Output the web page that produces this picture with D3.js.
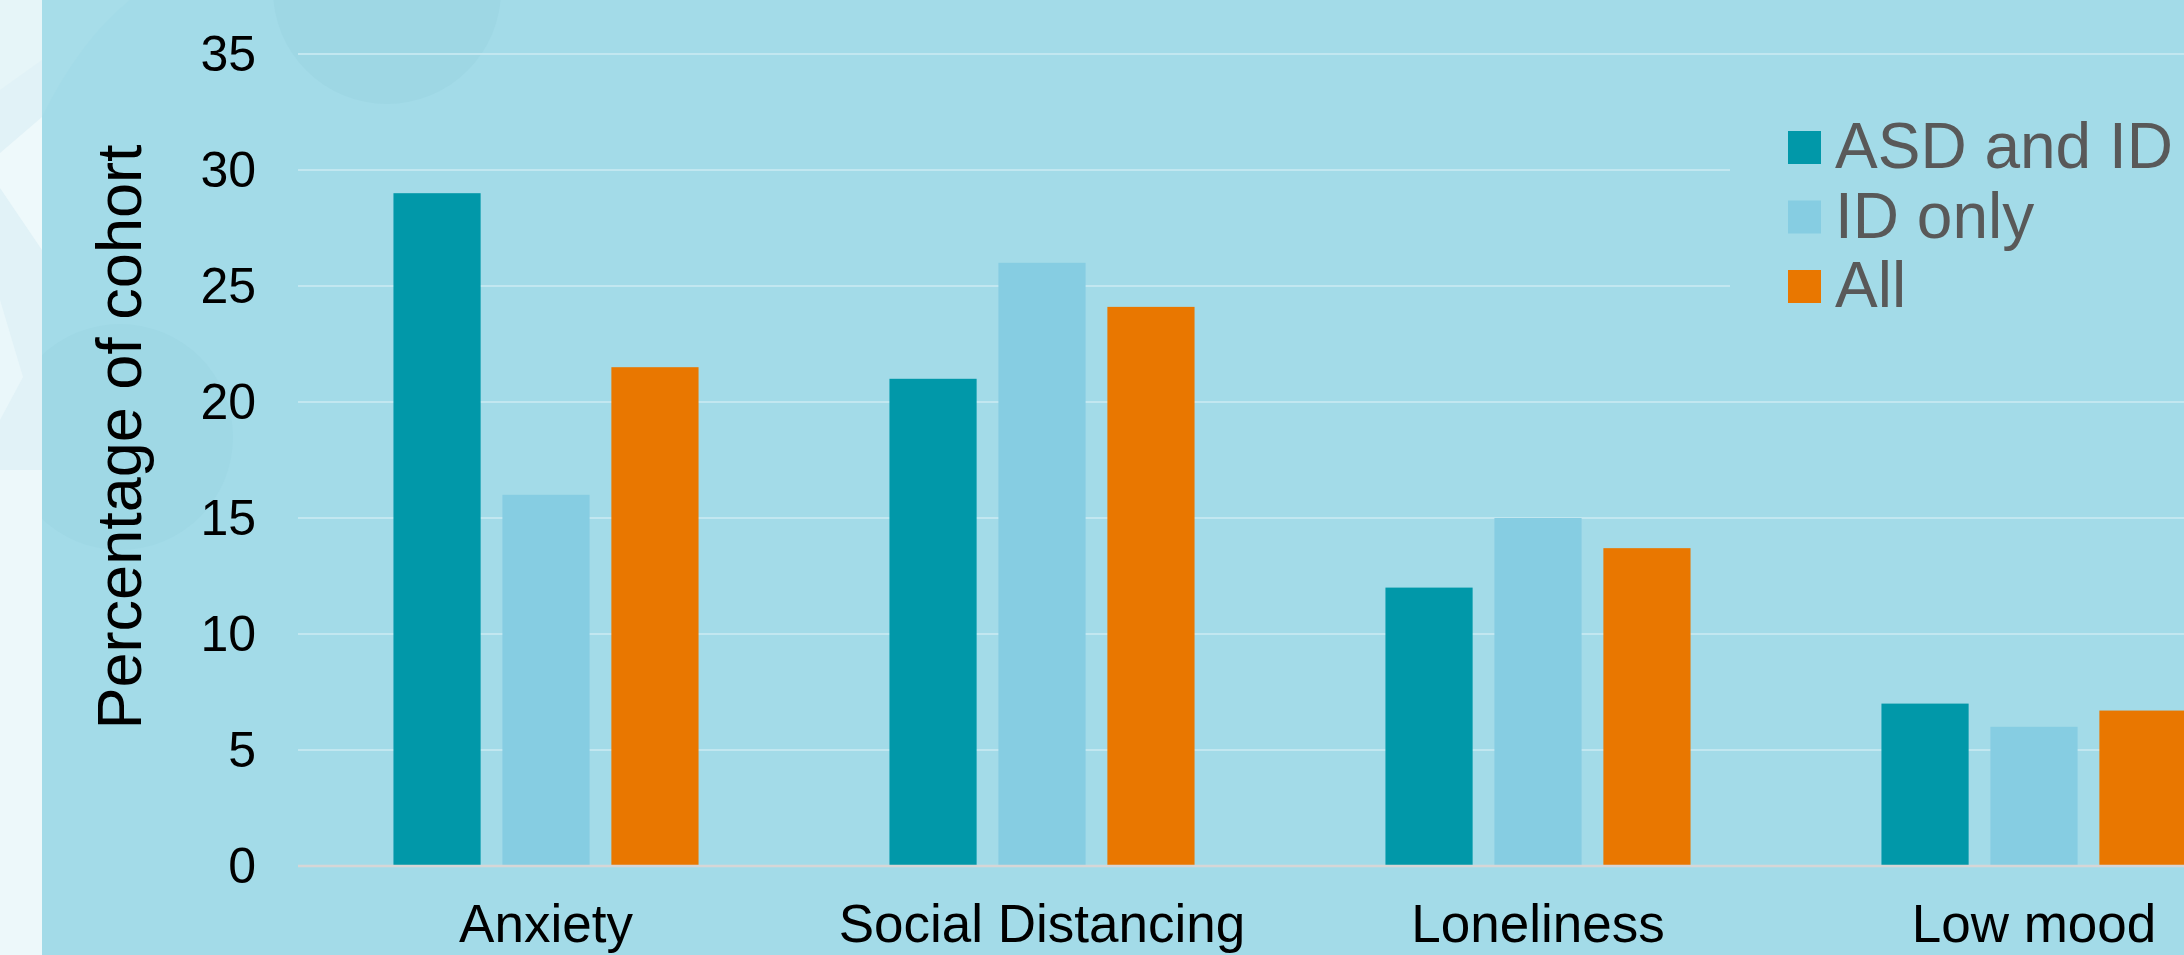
<!DOCTYPE html>
<html>
<head>
<meta charset="utf-8">
<script src="https://cdn.jsdelivr.net/npm/d3@7"></script>
<style>
  html, body { margin: 0; padding: 0; background: #a3dbe8; overflow: hidden; }
  svg { display: block; font-family: "Liberation Sans", Arial, sans-serif; }
</style>
</head>
<body>
<svg id="chart"></svg>
<script>
// data
let categories = ['Anxiety', 'Social Distancing', 'Loneliness', 'Low mood']
let seriesNames = ['ASD and ID', 'ID only', 'All']
let asdAndId = [29, 21, 12, 7]
let idOnly = [16, 26, 15, 6]
let allCohort = [21.5, 24.1, 13.7, 6.7]
let yTicks = [0, 5, 10, 15, 20, 25, 30, 35]

let colors = ['#0198a9', '#86cde2', '#e97700']

let width = 2184
let height = 955

let svg = d3.select('#chart')
  .attr('width', width)
  .attr('height', height)

// background
svg.append('rect')
  .attr('width', width).attr('height', height)
  .attr('fill', '#a3dbe8')

// faint decoration shapes
svg.append('path')
  .attr('d', 'M42,117 Q80,40 130,0 L0,0 L0,150 Z')
  .attr('fill', '#a7dde9')
svg.append('circle').attr('cx', 387).attr('cy', -10).attr('r', 114).attr('fill', '#9ed7e4')
svg.append('circle').attr('cx', 120).attr('cy', 437).attr('r', 113).attr('fill', '#9fd8e5')

// light strip on the left
let strip = svg.append('g')
strip.append('rect').attr('x', 0).attr('y', 0).attr('width', 42).attr('height', height).attr('fill', '#e1f2f7')
strip.append('path').attr('d', 'M0,153 L42,117 L42,250 L0,188 Z').attr('fill', '#eef9fb')
strip.append('path').attr('d', 'M0,300 L23,377 L0,420 Z').attr('fill', '#eaf7fa')
strip.append('path').attr('d', 'M0,470 L42,470 L42,955 L0,955 Z').attr('fill', '#edf8fa')
strip.append('path').attr('d', 'M0,0 L42,0 L42,60 L0,90 Z').attr('fill', '#e6f5f8')

let x0 = d3.scaleBand()
  .domain(categories)
  .range([298, 298 + 4 * 496])
  .padding(0)

let x1 = d3.scaleBand()
  .domain(seriesNames)
  .range([0, x0.bandwidth()])
  .paddingInner(0.2)
  .paddingOuter(0.876)

let y = d3.scaleLinear()
  .domain([0, 35])
  .range([866, 54])

// gridlines
svg.append('g')
  .selectAll('line')
  .data(yTicks.filter(d => d > 0))
  .enter()
  .append('line')
  .attr('x1', 298).attr('x2', width)
  .attr('y1', d => y(d)).attr('y2', d => y(d))
  .attr('stroke', '#c2e7f0')
  .attr('stroke-width', 2)

// y axis labels
let yAxis = svg.append('g')
  .attr('transform', 'translate(256,0)')
  .call(d3.axisLeft(y).tickValues(yTicks).tickSize(0).tickPadding(0))
yAxis.select('.domain').remove()
yAxis.selectAll('text')
  .attr('font-size', 50)
  .attr('fill', '#000')
  .attr('font-family', '"Liberation Sans", Arial, sans-serif')

// axis title
svg.append('text')
  .attr('transform', 'translate(141,437) rotate(-90)')
  .attr('text-anchor', 'middle')
  .attr('font-size', 63)
  .attr('fill', '#000')
  .text('Percentage of cohort')

// bars
let rows = categories.map((c, i) => ({
  category: c,
  values: [asdAndId[i], idOnly[i], allCohort[i]]
}))

let groups = svg.append('g')
  .selectAll('g')
  .data(rows)
  .enter()
  .append('g')
  .attr('transform', d => 'translate(' + x0(d.category) + ',0)')

groups.selectAll('rect')
  .data(d => d.values.map((v, j) => ({series: seriesNames[j], value: v, idx: j})))
  .enter()
  .append('rect')
  .attr('x', d => x1(d.series))
  .attr('y', d => y(d.value))
  .attr('width', x1.bandwidth())
  .attr('height', d => y(0) - y(d.value))
  .attr('fill', d => colors[d.idx])

// zero line
svg.append('line')
  .attr('x1', 298).attr('x2', width)
  .attr('y1', y(0)).attr('y2', y(0))
  .attr('stroke', '#d6d6d6')
  .attr('stroke-width', 2.5)

// category labels
let xAxis = svg.append('g')
  .attr('transform', 'translate(0,' + y(0) + ')')
  .call(d3.axisBottom(x0).tickSize(0).tickPadding(0))
xAxis.select('.domain').remove()
xAxis.selectAll('text')
  .attr('dy', null)
  .attr('y', 76)
  .attr('font-size', 53)
  .attr('fill', '#000')
  .attr('font-family', '"Liberation Sans", Arial, sans-serif')

// legend, box hides the gridlines behind it
let legend = svg.append('g')
legend.append('rect')
  .attr('x', 1730).attr('y', 100)
  .attr('width', width - 1730).attr('height', 240)
  .attr('fill', '#a3dbe8')

let items = legend.selectAll('g')
  .data(seriesNames)
  .enter()
  .append('g')
  .attr('transform', (d, i) => 'translate(1788,' + (131 + i * 69.5) + ')')

items.append('rect')
  .attr('width', 33).attr('height', 33)
  .attr('fill', (d, i) => colors[i])

items.append('text')
  .attr('x', 47)
  .attr('y', 37)
  .attr('font-size', 64)
  .attr('fill', '#595959')
  .text(d => d)
</script>
</body>
</html>
